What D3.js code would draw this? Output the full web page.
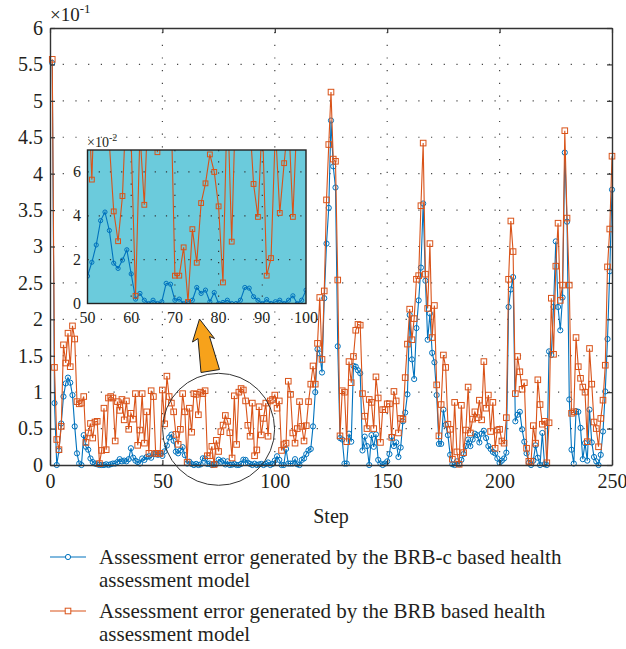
<!DOCTYPE html>
<html>
<head>
<meta charset="utf-8">
<script src="https://cdn.jsdelivr.net/npm/d3@7"></script>
<style>
  body { margin: 0; background: #fff; }
  svg text { font-family: "Liberation Serif", "Times New Roman", serif; fill: #231f20; }
</style>
</head>
<body>
<svg id="chart" width="626" height="649"></svg>
<script>
// values are in units of 10^-1
const steps = d3.range(1, 251);

const brbc = [
  5.52,0.85,0.00,0.20,0.57,0.94,1.12,1.20,1.13,0.96,
  0.53,0.16,0.02,0.00,0.41,0.25,0.21,0.09,0.04,0.02,
  0.01,0.00,0.00,0.00,0.01,0.00,0.01,0.02,0.02,0.04,
  0.08,0.05,0.06,0.05,0.08,0.23,0.10,0.06,0.04,0.02,
  0.09,0.07,0.11,0.12,0.10,0.15,0.15,0.14,0.15,0.125,
  0.188,0.267,0.378,0.417,0.333,0.184,0.160,0.198,0.245,0.135,
  0.020,0.046,0.015,0.000,0.015,0.000,0.008,0.092,0.088,0.015,
  0.020,0.000,0.008,0.015,0.073,0.046,0.061,0.008,0.050,0.000,
  0.005,0.015,0.000,0.000,0.015,0.073,0.070,0.031,0.015,0.000,
  0.018,0.000,0.008,0.015,0.000,0.015,0.035,0.000,0.015,0.061,
  0.12,0.07,0.00,0.00,0.22,0.02,0.02,0.02,0.08,0.01,
  0.00,0.07,0.09,0.15,0.20,0.22,0.53,1.00,1.59,1.53,
  1.27,2.29,3.04,3.53,4.73,4.10,3.81,1.63,0.37,0.35,
  0.02,0.02,0.43,0.32,1.36,1.35,1.30,1.26,0.20,0.39,
  0.26,0.00,0.41,0.25,0.42,0.07,0.02,0.00,0.02,0.05,
  0.15,0.39,0.26,0.31,0.11,0.24,0.60,0.72,0.97,2.06,
  1.45,1.18,1.88,2.26,2.71,3.59,2.53,1.72,2.08,1.54,
  1.41,0.96,0.29,0.29,0.76,0.55,0.41,0.14,0.01,0.00,
  0.05,0.01,0.07,0.15,0.26,0.35,0.26,0.35,0.43,0.41,
  0.31,0.43,0.47,0.37,0.26,0.22,0.18,0.16,0.09,0.03,
  0.06,0.09,0.17,2.17,2.41,2.58,0.60,0.69,0.73,0.49,
  0.32,0.16,0.03,0.00,0.06,0.27,0.10,0.00,0.44,0.01,
  0.00,1.56,1.51,2.17,3.07,2.17,1.85,2.30,4.29,3.34,
  0.90,0.21,0.02,0.74,0.73,0.51,0.08,0.30,0.06,0.76,
  0.31,0.11,0.05,0.00,0.14,0.46,1.01,1.73,2.66,3.78
];

const brb = [
  5.57,1.34,0.35,0.21,0.53,1.65,1.40,1.81,1.35,1.91,
  1.73,0.87,0.84,0.85,0.94,0.31,0.44,0.57,0.37,0.59,
  0.60,0.02,0.20,0.78,0.21,0.92,0.94,0.92,0.33,0.87,
  0.75,0.90,0.62,0.88,0.49,0.71,0.63,0.98,0.27,0.48,
  0.98,0.30,0.73,0.16,1.02,0.94,0.16,0.16,0.16,1.03,
  0.565,1.22,0.94,0.85,0.73,0.42,0.284,0.49,0.98,0.73,
  0.035,0.78,0.45,0.98,0.97,0.69,1.00,0.98,1.02,0.127,
  0.127,0.256,0.007,0.339,0.186,0.458,0.548,0.68,0.60,0.443,
  0.096,0.95,0.282,1.00,1.05,1.03,0.88,0.545,0.395,0.85,
  0.127,0.207,0.80,0.413,0.64,0.85,0.395,0.88,0.90,0.96,
  0.78,0.88,0.20,0.28,0.30,1.15,0.97,0.44,0.30,0.50,
  0.87,0.53,0.33,0.54,0.87,1.11,1.36,1.11,1.67,2.30,
  1.45,2.39,3.64,4.40,5.12,4.20,4.17,2.54,0.40,1.02,
  1.00,0.32,1.42,1.13,1.49,1.85,1.93,1.92,0.98,0.67,
  0.50,0.90,0.86,0.50,1.21,0.92,0.31,0.76,0.76,0.84,
  0.84,0.38,1.01,0.88,0.44,0.64,0.63,1.20,1.66,2.14,
  1.72,2.01,2.55,2.60,3.56,4.42,2.62,2.15,3.04,1.75,
  2.19,1.10,0.40,0.83,1.51,1.34,0.56,0.49,0.08,0.86,
  0.18,0.01,0.82,0.17,0.48,1.07,0.44,0.63,0.73,0.65,
  0.89,0.62,1.42,0.78,0.96,0.46,0.86,0.23,0.48,0.49,
  0.33,0.30,0.65,2.55,3.35,2.93,0.98,1.49,1.28,1.04,
  1.13,0.23,0.05,0.05,0.54,0.30,1.17,0.83,0.56,0.60,
  0.03,0.58,2.29,1.52,2.73,3.32,2.26,2.47,4.59,3.39,
  2.47,0.71,0.73,1.75,1.35,1.19,1.07,1.00,0.32,1.60,
  1.11,0.59,0.50,0.25,0.64,0.89,1.37,2.72,3.24,4.24
];

const xTicks = [0, 50, 100, 150, 200, 250];
const yTicks = [0, 0.5, 1, 1.5, 2, 2.5, 3, 3.5, 4, 4.5, 5, 5.5, 6];
const insetXTicks = [50, 60, 70, 80, 90, 100];
const insetYTicks = [0, 2, 4, 6];
const legendLines = [
  ['Assessment error generated by the BRB-c based health', 'assessment model'],
  ['Assessment error generated by the BRB based health', 'assessment model']
];

const serif = '"Liberation Serif", "Times New Roman", serif';
const blue = '#0072BD';
const orange = '#D95319';
const svg = d3.select('#chart');

const x = d3.scaleLinear().domain([0, 250]).range([50, 612]);
const y = d3.scaleLinear().domain([0, 6]).range([465, 28]);

// dotted grid
const grid = svg.append('g').attr('stroke', '#444').attr('stroke-width', 1.2)
  .attr('stroke-dasharray', '1.2,11.5');
yTicks.slice(1, -1).forEach(t => {
  grid.append('line').attr('x1', x(0)).attr('x2', x(250)).attr('y1', y(t)).attr('y2', y(t));
});
xTicks.slice(1, -1).forEach(t => {
  grid.append('line').attr('x1', x(t)).attr('x2', x(t)).attr('y1', y(0)).attr('y2', y(6));
});

function drawSeries(g, data, sx, sy, color, shape, size) {
  let line = d3.line().x(d => sx(d.s)).y(d => sy(d.v));
  g.append('path').datum(data).attr('d', line)
    .attr('fill', 'none').attr('stroke', color).attr('stroke-width', 1.1);
  if (shape === 'circle') {
    g.selectAll(null).data(data).enter().append('circle')
      .attr('cx', d => sx(d.s)).attr('cy', d => sy(d.v)).attr('r', size)
      .attr('fill', 'none').attr('stroke', color).attr('stroke-width', 1);
  } else {
    g.selectAll(null).data(data).enter().append('rect')
      .attr('x', d => sx(d.s) - size).attr('y', d => sy(d.v) - size)
      .attr('width', size * 2).attr('height', size * 2)
      .attr('fill', 'none').attr('stroke', color).attr('stroke-width', 1);
  }
}

const blueData = steps.map((s, i) => ({ s, v: brbc[i] }));
const orangeData = steps.map((s, i) => ({ s, v: brb[i] }));

const plot = svg.append('g');
drawSeries(plot, blueData, x, y, blue, 'circle', 2.6);
drawSeries(plot, orangeData, x, y, orange, 'square', 2.8);

// axes with inward ticks and a full box
function styleAxis(g) {
  g.attr('font-family', null).attr('font-size', null);
  g.select('.domain').attr('stroke', '#333').attr('stroke-width', 1.4);
  g.selectAll('.tick line').attr('stroke', '#333').attr('stroke-width', 1.2);
  g.selectAll('text').style('font-size', '20px').style('fill', '#231f20')
    .style('font-family', serif);
}
svg.append('g').attr('transform', `translate(0,${y(0)})`)
  .call(d3.axisBottom(x).tickValues(xTicks).tickSize(-5).tickSizeOuter(0).tickPadding(9))
  .call(styleAxis);
svg.append('g').attr('transform', `translate(0,${y(6)})`)
  .call(d3.axisTop(x).tickValues(xTicks).tickSize(-5).tickSizeOuter(0).tickFormat(''))
  .call(styleAxis);
svg.append('g').attr('transform', `translate(${x(0)},0)`)
  .call(d3.axisLeft(y).tickValues(yTicks).tickSize(-5).tickSizeOuter(0).tickPadding(7)
    .tickFormat(d3.format('~g')))
  .call(styleAxis);
svg.append('g').attr('transform', `translate(${x(250)},0)`)
  .call(d3.axisRight(y).tickValues(yTicks).tickSize(-5).tickSizeOuter(0).tickFormat(''))
  .call(styleAxis);

// exponent label
let expo = svg.append('text').attr('x', 50).attr('y', 21).style('font-size', '19px');
expo.append('tspan').text('×10');
expo.append('tspan').attr('dy', -8).style('font-size', '13px').text('-1');

svg.append('text').attr('x', 331).attr('y', 523).attr('text-anchor', 'middle')
  .style('font-size', '20px').text('Step');

// zoom circle
svg.append('circle').attr('cx', x(75)).attr('cy', y(0.49)).attr('r', 56)
  .attr('fill', 'none').attr('stroke', '#333').attr('stroke-width', 1);

// inset
const ix = d3.scaleLinear().domain([50, 100]).range([87.5, 306]);
const iy = d3.scaleLinear().domain([0, 7]).range([303.5, 150]);
const inset = svg.append('g');
inset.append('clipPath').attr('id', 'inset-clip').append('rect')
  .attr('x', 87.5).attr('y', 150).attr('width', 218.5).attr('height', 153.5);
inset.append('rect').attr('x', 87.5).attr('y', 150).attr('width', 218.5).attr('height', 153.5)
  .attr('fill', '#6BCBDC');
const igrid = inset.append('g').attr('stroke', '#333').attr('stroke-width', 1.2)
  .attr('stroke-dasharray', '1.2,10');
insetYTicks.slice(1).forEach(t => {
  igrid.append('line').attr('x1', 87.5).attr('x2', 306).attr('y1', iy(t)).attr('y2', iy(t));
});
insetXTicks.slice(1, -1).forEach(t => {
  igrid.append('line').attr('x1', ix(t)).attr('x2', ix(t)).attr('y1', 150).attr('y2', 303.5);
});
const inner = inset.append('g').attr('clip-path', 'url(#inset-clip)');
// inset is in units of 10^-2
const toE2 = d => ({ s: d.s, v: d.v * 10 });
drawSeries(inner, blueData.filter(d => d.s >= 49 && d.s <= 100).map(toE2), ix, iy, blue, 'circle', 2.1);
drawSeries(inner, orangeData.filter(d => d.s >= 49 && d.s <= 100).map(toE2), ix, iy, orange, 'square', 2.4);
inset.append('rect').attr('x', 87.5).attr('y', 150).attr('width', 218.5).attr('height', 153.5)
  .attr('fill', 'none').attr('stroke', '#222').attr('stroke-width', 1.4);

insetYTicks.forEach(t => {
  inset.append('text').attr('x', 81).attr('y', iy(t) + 5).attr('text-anchor', 'end')
    .style('font-size', '16px').text(t);
});
insetXTicks.forEach(t => {
  inset.append('text').attr('x', ix(t)).attr('y', 323).attr('text-anchor', 'middle')
    .style('font-size', '16px').text(t);
});
let iexpo = inset.append('text').attr('x', 87).attr('y', 147).style('font-size', '14px');
iexpo.append('tspan').text('×10');
iexpo.append('tspan').attr('dy', -6).style('font-size', '10px').text('-2');

// arrow from the circle to the inset
const arrowPts = [[199.5, 319], [214.5, 338.5], [209.5, 336.5], [219.5, 369.5],
  [201, 372.5], [198, 338.5], [192.5, 342]];
svg.append('path').attr('d', d3.line()(arrowPts) + 'Z')
  .attr('fill', '#F7A21B').attr('stroke', '#222').attr('stroke-width', 1);

// legend
const legend = svg.append('g');
[[blue, 'circle'], [orange, 'square']].forEach(([color, shape], i) => {
  let ly = 557 + i * 54;
  legend.append('line').attr('x1', 50).attr('x2', 86).attr('y1', ly).attr('y2', ly)
    .attr('stroke', color).attr('stroke-width', 1.1);
  if (shape === 'circle') {
    legend.append('circle').attr('cx', 68).attr('cy', ly).attr('r', 2.6)
      .attr('fill', '#fff').attr('stroke', color);
  } else {
    legend.append('rect').attr('x', 65.2).attr('y', ly - 2.8).attr('width', 5.6).attr('height', 5.6)
      .attr('fill', '#fff').attr('stroke', color);
  }
  legendLines[i].forEach((t, j) => {
    legend.append('text').attr('x', 99).attr('y', ly + 7 + j * 23).style('font-size', '21px').text(t);
  });
});
</script>
</body>
</html>
